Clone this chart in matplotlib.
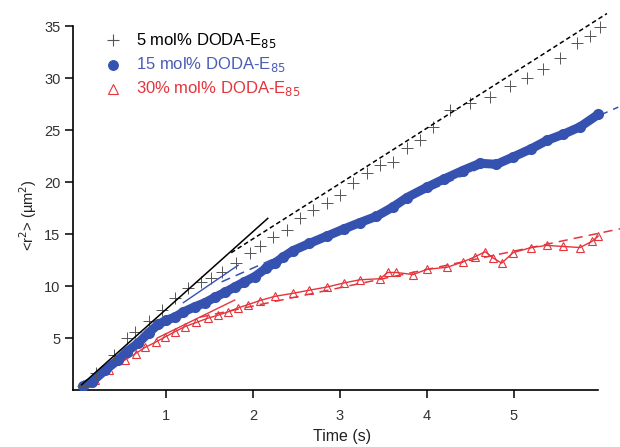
import matplotlib
matplotlib.use("Agg")
import matplotlib.pyplot as plt
import numpy as np

# mean square displacement
t_black = [0.05, 0.2, 0.4, 0.55, 0.64, 0.8, 0.95, 1.1, 1.25, 1.4, 1.52, 1.64, 1.8,
           1.97, 2.08, 2.23, 2.39, 2.54, 2.69, 2.85, 3.0, 3.15, 3.31, 3.46, 3.61,
           3.77, 3.92, 4.07, 4.26, 4.49, 4.72, 4.95, 5.15, 5.33, 5.53, 5.72, 5.87,
           5.99]
v_black = [0.4, 1.6, 3.4, 5.0, 5.6, 6.6, 7.7, 8.8, 9.8, 10.4, 10.8, 11.3, 12.2,
           13.2, 13.8, 14.7, 15.4, 16.5, 17.3, 18.0, 18.75, 19.9, 20.9, 21.6, 21.9,
           23.3, 24.0, 25.3, 26.9, 27.6, 28.2, 29.2, 30.0, 30.9, 31.9, 33.4, 34.0,
           34.9]

t_blue = [0.05, 0.15, 0.3, 0.45, 0.55, 0.68, 0.8, 0.91, 1.0, 1.1, 1.2, 1.33, 1.45,
          1.56, 1.68, 1.79, 1.9, 2.02, 2.15, 2.25, 2.35, 2.46, 2.65, 2.85, 3.05,
          3.23, 3.42, 3.61, 3.77, 4.0, 4.2, 4.41, 4.61, 4.8, 4.99, 5.2, 5.38,
          5.57, 5.76, 5.97]
v_blue = [0.4, 0.8, 1.9, 2.9, 3.7, 4.5, 5.5, 6.3, 6.7, 7.0, 7.5, 8.0, 8.4,
          8.9, 9.4, 9.9, 10.4, 10.9, 11.7, 12.2, 12.8, 13.4, 14.1, 14.8, 15.5,
          16.1, 16.7, 17.6, 18.5, 19.5, 20.3, 21.1, 21.8, 21.7, 22.4, 23.2, 24.0,
          24.6, 25.3, 26.5]

t_red = [0.05, 0.18, 0.35, 0.53, 0.65, 0.76, 0.88, 0.99, 1.1, 1.22, 1.35, 1.48,
         1.6, 1.71, 1.83, 1.94, 2.08, 2.25, 2.46, 2.65, 2.85, 3.05, 3.23, 3.46,
         3.55, 3.65, 3.84, 4.0, 4.23, 4.41, 4.55, 4.67, 4.76, 4.86, 4.99, 5.2,
         5.38, 5.57, 5.76, 5.9, 5.97]
v_red = [0.4, 1.0, 1.9, 2.9, 3.5, 4.1, 4.6, 5.1, 5.6, 6.1, 6.5, 6.9,
         7.2, 7.5, 7.9, 8.2, 8.6, 9.0, 9.3, 9.6, 9.9, 10.3, 10.6, 10.7,
         11.3, 11.3, 11.1, 11.6, 11.8, 12.3, 12.8, 13.3, 12.7, 12.2, 13.2, 13.7,
         13.9, 13.8, 13.7, 14.3, 14.8]

# fits: short-time (solid) and long-time (dashed)
short_black_t = [0.03, 2.17]
short_black_v = [0.5, 16.5]
short_blue_t = [1.2, 1.83]
short_blue_v = [8.4, 12.0]
short_red_t = [0.9, 1.79]
short_red_v = [5.0, 8.65]

long_black_t = [1.75, 6.07]
long_black_v = [13.2, 36.2]
long_blue_t = [1.64, 6.2]
long_blue_v = [10.4, 27.2]
long_red_t = [1.39, 6.22]
long_red_v = [7.0, 15.5]

labels = ["5 mol% DODA-E$_{85}$", "15 mol% DODA-E$_{85}$", "30% mol% DODA-E$_{85}$"]

c_black = "#555555"
c_blue = "#3552b0"
c_red = "#e5343c"
c_blue_txt = "#4a5cb8"

plt.rcParams["font.family"] = ["Liberation Sans", "DejaVu Sans"]

fig = plt.figure(figsize=(6.2, 4.47), dpi=100)
ax = fig.add_axes([73 / 620, 57 / 447, 1 - 73 / 620, 1 - 57 / 447])

# data
ax.plot(t_red, v_red, color=c_red, lw=1.0, zorder=2)
ax.plot(t_red, v_red, ls="none", marker="^", ms=6, mfc="none", mec=c_red,
        mew=0.8, zorder=2)
ax.plot(t_blue, v_blue, color=c_blue, lw=6.5, solid_capstyle="round",
        solid_joinstyle="round", zorder=3)
ax.plot(t_blue, v_blue, ls="none", marker="o", ms=7, color=c_blue, zorder=3)
ax.plot(t_black, v_black, ls="none", marker="+", ms=8, mew=0.7, color=c_black,
        zorder=4)

# fit lines
ax.plot(short_black_t, short_black_v, color="black", lw=1.1, zorder=5)
ax.plot(short_blue_t, short_blue_v, color=c_blue, lw=1.0, zorder=5)
ax.plot(short_red_t, short_red_v, color=c_red, lw=1.0, zorder=5)
ax.plot(long_black_t, long_black_v, color="black", lw=1.1, dashes=(3, 2), zorder=5)
ax.plot(long_blue_t, long_blue_v, color=c_blue, lw=1.1, dashes=(6, 4), zorder=5)
ax.plot(long_red_t, long_red_v, color=c_red, lw=1.1, dashes=(6, 4), zorder=5)

ax.set_xlim(-0.069, 6.22)
ax.set_ylim(0, 37.5)
ax.spines["top"].set_visible(False)
ax.spines["right"].set_visible(False)
ax.spines["bottom"].set_bounds(-0.069, 5.97)
ax.spines["left"].set_bounds(0, 35)
for s in ("left", "bottom"):
    ax.spines[s].set_linewidth(1.2)
ax.set_xticks([1, 2, 3, 4, 5])
ax.set_yticks([5, 10, 15, 20, 25, 30, 35])
ax.tick_params(direction="out", length=6, width=1.1, labelsize=10.5, pad=3,
               colors="black", labelcolor="#333333")
ax.tick_params(axis="x", pad=8)
ax.set_facecolor("none")

fig.text(342 / 620, 1 - 437 / 447, "Time (s)", ha="center", va="center",
         fontsize=11.5, color="#222222")
fig.text(28 / 620, 1 - 215 / 447, "<r$^2$> (\u00b5m$^2$)", ha="center",
         va="center", rotation=90, fontsize=10.5, color="#222222")

# legend drawn by hand
leg_rows = [(40, "+", c_black, "black", 8), (65, "o", c_blue, c_blue_txt, 7),
            (89, "^", c_red, c_red, 7)]
for (py, mk, mc, tc, ms), lab in zip(leg_rows, labels):
    y = 1 - py / 447
    if mk == "^":
        fig.lines.append(plt.Line2D([113 / 620], [y], marker=mk, ms=ms,
                                    mfc="none", mec=mc, mew=0.8,
                                    transform=fig.transFigure))
    else:
        fig.lines.append(plt.Line2D([113 / 620], [y], marker=mk, ms=ms,
                                    color=mc, mew=0.8,
                                    transform=fig.transFigure))
    fig.text(136 / 620, y, lab, color=tc, fontsize=12, va="center", ha="left")

fig.savefig("out.png", dpi=100)
